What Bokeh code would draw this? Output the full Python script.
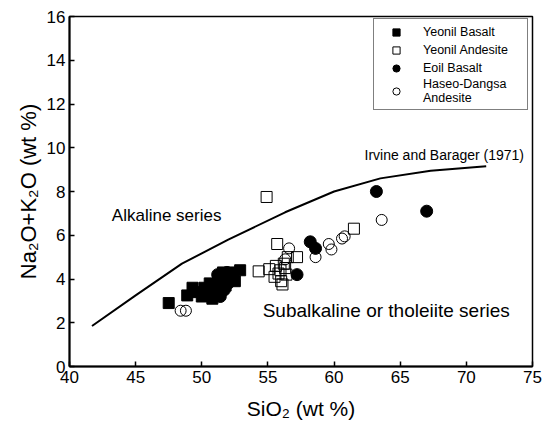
from bokeh.plotting import figure
from bokeh.models import Legend, LegendItem, Label, FixedTicker
from bokeh.embed import file_html
from bokeh.resources import INLINE

# Irvine and Barager (1971) boundary
ib_sio2 = [41.7, 45.0, 48.5, 52.0, 56.3, 60.0, 63.5, 67.3, 71.5]
ib_alk = [1.85, 3.25, 4.7, 5.8, 7.05, 8.0, 8.6, 8.95, 9.15]

# Yeonil Basalt (filled squares)
yb_sio2 = [47.5, 48.9, 49.3, 49.7, 50.0, 50.2, 50.5, 50.8, 51.0, 51.3, 51.5, 51.8, 52.0, 52.3, 52.5, 52.9, 51.6, 50.6]
yb_alk = [2.9, 3.25, 3.6, 3.4, 3.2, 3.6, 3.5, 3.1, 3.7, 3.5, 3.9, 3.7, 4.1, 4.3, 3.9, 4.4, 4.3, 3.8]

# Yeonil Andesite (open squares)
ya_sio2 = [54.9, 55.7, 54.3, 55.1, 55.5, 55.6, 55.95, 56.0, 56.1, 56.2, 56.5, 56.4, 57.2, 61.5, 55.8, 56.3]
ya_alk = [7.75, 5.6, 4.35, 4.45, 4.1, 4.6, 4.4, 3.9, 3.75, 4.7, 5.0, 4.2, 5.0, 6.3, 4.25, 4.5]

# Eoil Basalt (filled circles)
eb_sio2 = [50.4, 50.9, 51.2, 51.4, 51.7, 52.0, 51.9, 52.4, 57.2, 58.2, 58.6, 63.2, 67.0]
eb_alk = [3.3, 3.6, 4.2, 3.2, 3.5, 3.8, 4.3, 4.0, 4.2, 5.7, 5.4, 8.0, 7.1]

# Haseo-Dangsa Andesite (open circles)
hd_sio2 = [48.4, 48.8, 56.6, 58.6, 59.6, 59.8, 60.6, 60.8, 63.6, 56.3]
hd_alk = [2.55, 2.55, 5.4, 5.0, 5.6, 5.35, 5.85, 5.95, 6.7, 4.9]

x_ticks = [40, 45, 50, 55, 60, 65, 70, 75]
y_ticks = [0, 2, 4, 6, 8, 10, 12, 14, 16]

FONT = "Liberation Sans"

p = figure(frame_width=463, frame_height=350, x_range=(40, 75), y_range=(0, 16),
           output_backend="svg", toolbar_location=None,
           min_border_left=69, min_border_right=19, min_border_top=16, min_border_bottom=59)
p.border_fill_color = "white"
p.background_fill_color = "white"
p.grid.visible = False
p.outline_line_color = "black"
p.outline_line_width = 1.5

for ax in (p.xaxis[0], p.yaxis[0]):
    ax.axis_line_width = 2
    ax.major_tick_in = 5
    ax.major_tick_out = 0
    ax.minor_tick_in = 0
    ax.minor_tick_out = 0
    ax.major_tick_line_width = 1.5
    ax.major_label_text_font = FONT
    ax.major_label_text_font_size = "17px"
    ax.major_label_text_color = "black"
    ax.axis_label_text_font = FONT
    ax.axis_label_text_font_style = "normal"
    ax.axis_label_text_color = "black"

p.xaxis.ticker = FixedTicker(ticks=x_ticks)
p.yaxis.ticker = FixedTicker(ticks=y_ticks)
p.xaxis.axis_label = "SiO₂ (wt %)"
p.yaxis.axis_label = "Na₂O+K₂O (wt %)"
p.xaxis.axis_label_text_font_size = "21px"
p.yaxis.axis_label_text_font_size = "22px"
p.xaxis.major_label_standoff = 4
p.yaxis.major_label_standoff = 4
p.xaxis.axis_label_standoff = 11
p.yaxis.axis_label_standoff = 3

p.line(ib_sio2, ib_alk, line_color="black", line_width=2)

r_yb = p.scatter(yb_sio2, yb_alk, marker="square", size=11, fill_color="black", line_color="black")
r_ya = p.scatter(ya_sio2, ya_alk, marker="square", size=11, fill_color="white", fill_alpha=0.0,
                 line_color="black", line_width=1)
r_eb = p.scatter(eb_sio2, eb_alk, marker="circle", size=12, fill_color="black", line_color="black")
r_hd = p.scatter(hd_sio2, hd_alk, marker="circle", size=11, fill_color="white", fill_alpha=0.0,
                 line_color="black", line_width=1)

p.add_layout(Label(x=43.2, y=6.9, text="Alkaline series", text_font=FONT, text_font_size="17px",
                   text_baseline="middle", text_color="black"))
p.add_layout(Label(x=54.6, y=2.56, text="Subalkaline or tholeiite series", text_font=FONT,
                   text_font_size="19px", text_baseline="middle", text_color="black"))
p.add_layout(Label(x=62.3, y=9.65, text="Irvine and Barager (1971)", text_font=FONT,
                   text_font_size="14px", text_baseline="middle", text_color="black"))

legend = Legend(items=[
    LegendItem(label="Yeonil Basalt", renderers=[r_yb]),
    LegendItem(label="Yeonil Andesite", renderers=[r_ya]),
    LegendItem(label="Eoil Basalt", renderers=[r_eb]),
    LegendItem(label="Haseo-Dangsa\nAndesite", renderers=[r_hd]),
], location=(304, 256))
legend.label_text_font = FONT
legend.label_text_font_size = "12.5px"
legend.label_text_color = "black"
legend.border_line_color = "black"
legend.border_line_width = 1.5
legend.background_fill_color = "white"
legend.background_fill_alpha = 1.0
legend.padding = 4
legend.spacing = 0
legend.margin = 0
legend.glyph_width = 36
legend.glyph_height = 18
legend.label_height = 18
legend.label_width = 100
legend.label_standoff = 9
legend.label_text_line_height = 0.95
p.add_layout(legend)

open("out.html", "w").write(file_html(p, INLINE))
